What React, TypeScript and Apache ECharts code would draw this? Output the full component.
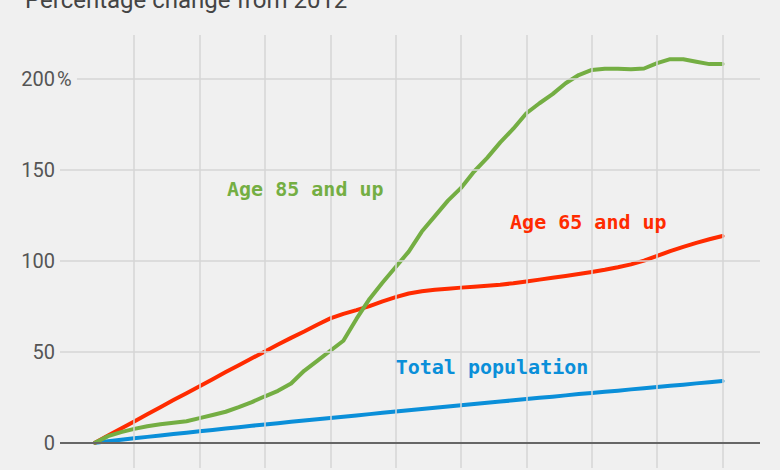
import React, { useEffect, useRef } from "react";
import * as echarts from "echarts";

const years: number[] = [];
for (let y = 2012; y <= 2060; y++) years.push(y);

const totalPopulation = [
  0, 0.8, 1.6, 2.4, 3.2, 4.0, 4.8, 5.5, 6.3, 7.0, 7.8, 8.5, 9.3, 10.0, 10.7, 11.5, 12.2, 12.9, 13.6,
  14.3, 15.0, 15.7, 16.4, 17.1, 17.8, 18.5, 19.2, 19.9, 20.6, 21.3, 22.0, 22.6, 23.3, 24.0, 24.7,
  25.3, 26.0, 26.7, 27.3, 28.0, 28.6, 29.3, 29.9, 30.6, 31.3, 31.9, 32.6, 33.2, 33.9,
];

const age65 = [
  0, 3.9, 7.8, 11.7, 15.6, 19.5, 23.4, 27.2, 31.0, 34.9, 38.8, 42.6, 46.4, 50.1, 53.9, 57.6, 61.1,
  64.8, 68.3, 70.8, 72.8, 75.0, 77.6, 80.0, 82.0, 83.2, 84.0, 84.6, 85.2, 85.7, 86.2, 86.8, 87.6,
  88.6, 89.6, 90.6, 91.6, 92.7, 93.8, 95.0, 96.4, 98.0, 100.0, 102.6, 105.2, 107.6, 109.8, 111.8,
  113.6,
];

const age85 = [
  0, 3.6, 5.8, 7.6, 9.0, 10.1, 11.0, 11.8, 13.5, 15.2, 17.0, 19.5, 22.3, 25.5, 28.5, 32.5, 39.5,
  45.0, 50.5, 56.0, 68.0, 79.0, 88.0, 96.5, 105.0, 116.0, 124.5, 133.0, 140.0, 149.0, 156.5, 165.0,
  172.5, 181.0, 186.5, 191.5, 197.5, 202.0, 204.8, 205.5, 205.5, 205.2, 205.6, 208.5, 210.7, 210.7,
  209.3, 208.0, 208.0,
];

const yTicks = [0, 50, 100, 150, 200];
const gridYears = [2015, 2020, 2025, 2030, 2035, 2040, 2045, 2050, 2055, 2060];
const titleText = "Percentage change from 2012";
const seriesNames = ["Total population", "Age 65 and up", "Age 85 and up"];

const X_MIN = 2009.323;
const X_MAX = 2062.869;
const Y_MIN = -13.9;
const Y_MAX = 224;

const COLORS = { green: "#74ae43", red: "#ff2b00", blue: "#0a8fd9" };
const labelFont = "'DejaVu Sans Mono', 'Liberation Mono', monospace";

export default function App() {
  const ref = useRef<HTMLDivElement>(null);
  useEffect(() => {
    if (!ref.current) return;
    const chart = echarts.init(ref.current, null, { renderer: "svg" });
    const annotate = (coord: number[], text: string, color: string) => ({
      symbol: "circle",
      symbolSize: 0,
      silent: true,
      data: [{ coord }],
      label: {
        show: true,
        position: "right",
        distance: 0,
        formatter: text,
        color,
        fontFamily: labelFont,
        fontSize: 20,
        fontWeight: 600,
      },
    });
    const lineSeries = (name: string, data: number[], color: string, anno: any) => ({
      name,
      type: "line",
      data: years.map((y, i) => [y, data[i]]),
      showSymbol: false,
      symbol: "none",
      z: 3,
      lineStyle: { color, width: 4, cap: "round", join: "round" },
      markPoint: anno,
    });
    chart.setOption({
      animation: false,
      backgroundColor: "#f0f0f0",
      title: {
        text: titleText,
        left: 20,
        top: -17,
        textStyle: { fontFamily: "Roboto", fontSize: 24, fontWeight: "normal", color: "#444" },
      },
      grid: { left: 60, right: 20, top: 35, bottom: 2, containLabel: false },
      xAxis: {
        type: "value",
        min: X_MIN,
        max: X_MAX,
        axisLine: { show: false },
        axisTick: { show: false },
        axisLabel: { show: false },
        splitLine: { show: false },
      },
      yAxis: [
        {
          type: "value",
          min: Y_MIN,
          max: Y_MAX,
          axisLine: { show: false },
          axisTick: { show: false },
          splitLine: { show: false },
          axisLabel: {
            customValues: yTicks,
            margin: 5,
            fontFamily: "Roboto",
            fontSize: 20,
            color: "#555",
            formatter: (v: number) => String(v),
          },
        },
        {
          type: "value",
          position: "left",
          min: Y_MIN,
          max: Y_MAX,
          axisLine: { show: false },
          axisTick: { show: false },
          splitLine: { show: false },
          axisLabel: {
            customValues: [200],
            margin: 3,
            align: "left",
            fontFamily: "Roboto",
            fontSize: 20,
            color: "#555",
            formatter: () => "%",
          },
        },
      ],
      series: [
        {
          type: "line",
          data: [],
          z: 1,
          silent: true,
          markLine: {
            silent: true,
            symbol: "none",
            label: { show: false },
            lineStyle: { color: "#d6d6d6", width: 1.5, type: "solid" },
            data: [
              ...gridYears.map((y) => ({ xAxis: y })),
              ...[50, 100, 150].map((v) => ({ yAxis: v })),
              [{ coord: [2010.62, 200] }, { coord: [X_MAX, 200] }],
              { yAxis: 0, lineStyle: { color: "#666", width: 2 } },
            ],
          },
        },
        lineSeries(seriesNames[0], totalPopulation, COLORS.blue, annotate([2035.0, 41.8], seriesNames[0], COLORS.blue)),
        lineSeries(seriesNames[1], age65, COLORS.red, annotate([2043.75, 121.4], seriesNames[1], COLORS.red)),
        lineSeries(seriesNames[2], age85, COLORS.green, annotate([2022.1, 139.4], seriesNames[2], COLORS.green)),
      ],
    });
    return () => chart.dispose();
  }, []);
  return (
    <div
      ref={ref}
      style={{ position: "fixed", left: 0, top: 0, width: 780, height: 470 }}
    />
  );
}
